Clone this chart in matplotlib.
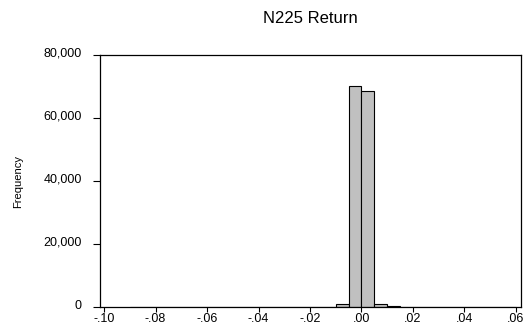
import numpy as np
import matplotlib.pyplot as plt
import matplotlib.transforms as mtransforms
from matplotlib.ticker import FuncFormatter

# histogram of N225 returns, bin width .005
bin_left = np.arange(-0.090, 0.060, 0.005)
counts = [0, 40, 40, 0, 0, 0, 0, 0, 0, 0,
          20, 20, 20, 30, 60, 150, 1000, 70200, 68600, 900,
          200, 60, 20, 20, 10, 10, 10, 10, 30, 0]
bin_width = 0.005

x_ticks = [-0.10, -0.08, -0.06, -0.04, -0.02, 0.00, 0.02, 0.04, 0.06]
y_ticks = [0, 20000, 40000, 60000, 80000]

plt.rcParams['font.family'] = ['Liberation Sans', 'DejaVu Sans']

fig = plt.figure(figsize=(5.29, 3.36), dpi=100)
ax = fig.add_axes([0.189, 0.086, 0.796, 0.750])

ax.bar(bin_left, counts, width=bin_width, align='edge',
       color='#c0c0c0', edgecolor='black', linewidth=0.8)

ax.set_xlim(-0.1016, 0.062)
ax.set_ylim(0, 80000)
ax.set_xticks(x_ticks)
ax.set_yticks(y_ticks)


def fmt_x(v, pos):
    s = '%.2f' % v
    s = s.replace('0.', '.')
    if s == '-.00':
        s = '.00'
    return s


ax.xaxis.set_major_formatter(FuncFormatter(fmt_x))
ax.yaxis.set_major_formatter(FuncFormatter(lambda v, p: '{:,.0f}'.format(v)))
ax.tick_params(axis='x', labelsize=9, length=3.6, width=0.8, pad=1)
ax.tick_params(axis='y', labelsize=9, length=5, width=0.8, pad=8)
for sp in ax.spines.values():
    sp.set_linewidth(0.9)

# y labels sit a little above their ticks
shift = mtransforms.ScaledTranslation(0, 3 / 100, fig.dpi_scale_trans)
for lbl in ax.get_yticklabels():
    lbl.set_transform(lbl.get_transform() + shift)

ax.set_ylabel('Frequency', fontsize=8, labelpad=14.5)
ax.set_title('N225 Return', fontsize=12, pad=23)

fig.savefig('out.png', dpi=100)
